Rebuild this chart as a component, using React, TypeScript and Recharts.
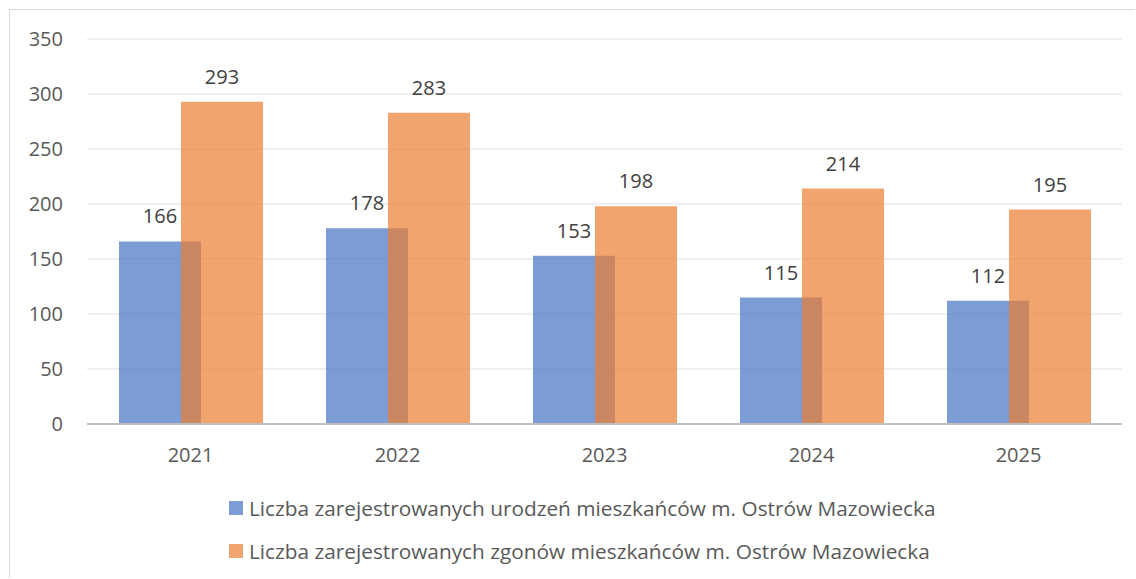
import { FC } from 'react';
import { BarChart, Bar, XAxis, YAxis, CartesianGrid, LabelList } from 'recharts';

const YEARS = ['2021', '2022', '2023', '2024', '2025'];
const BIRTHS = [166, 178, 153, 115, 112];
const DEATHS = [293, 283, 198, 214, 195];
const Y_TICKS = [0, 50, 100, 150, 200, 250, 300, 350];

const SERIES = [
  { key: 'births', name: 'Liczba zarejestrowanych urodzeń mieszkańców m. Ostrów Mazowiecka', color: '#4472C4' },
  { key: 'deaths', name: 'Liczba zarejestrowanych zgonów mieszkańców m. Ostrów Mazowiecka', color: '#ED7D31' },
];

const FONT = '"Open Sans", "Noto Sans", sans-serif';

const data = YEARS.map((year, i) => ({
  year,
  births: BIRTHS[i],
  deaths: DEATHS[i],
}));

const Legend: FC = () => (
  <div style={{ position: 'absolute', left: 219, top: 476, fontFamily: FONT, fontSize: 20.8, color: '#595959' }}>
    {SERIES.map((s) => (
      <div key={s.key} style={{ display: 'flex', alignItems: 'center', height: 43 }}>
        <span style={{ width: 14, height: 14, backgroundColor: s.color, opacity: 0.7, marginRight: 6 }} />
        <span>{s.name}</span>
      </div>
    ))}
  </div>
);

export default function App() {
  return (
    <div
      style={{
        position: 'absolute',
        left: 9,
        top: 9,
        width: 1125,
        height: 568,
        borderTop: '1px solid #d9d9d9',
        borderLeft: '1px solid #d9d9d9',
        background: '#fff',
      }}
    >
      <BarChart
        width={1125}
        height={568}
        data={data}
        margin={{ top: 29, right: 13, left: 0, bottom: 114 }}
        barCategoryGap={32}
        barGap={-20}
        style={{ fontFamily: FONT }}
      >
        <CartesianGrid vertical={false} stroke="#ebebeb" strokeWidth={1.5} />
        <XAxis
          dataKey="year"
          height={40}
          tickLine={false}
          tickSize={0}
          tickMargin={24}
          axisLine={{ stroke: '#bfbfbf', strokeWidth: 2 }}
          tick={{ fill: '#595959', fontSize: 20 }}
        />
        <YAxis
          width={77}
          domain={[0, 350]}
          ticks={Y_TICKS}
          axisLine={false}
          tickLine={false}
          tickSize={0}
          tickMargin={24}
          tick={{ fill: '#595959', fontSize: 20 }}
        />
        {SERIES.map((s) => (
          <Bar key={s.key} dataKey={s.key} name={s.name} fill={s.color} fillOpacity={0.7} isAnimationActive={false}>
            <LabelList dataKey={s.key} position="top" offset={18} fill="#404040" fontSize={20} />
          </Bar>
        ))}
      </BarChart>
      <Legend />
    </div>
  );
}
